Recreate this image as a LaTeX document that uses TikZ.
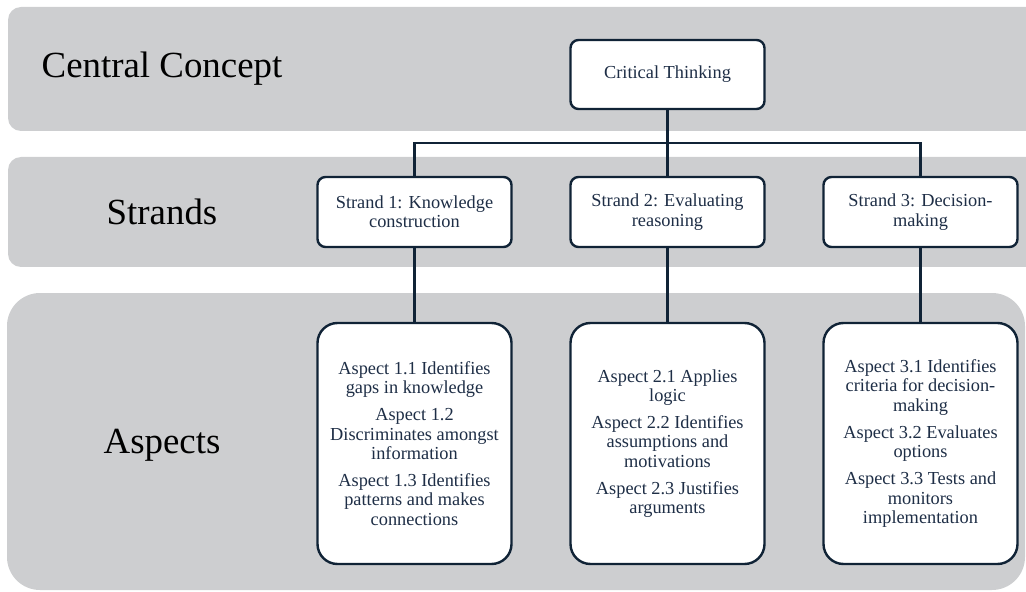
\documentclass[tikz,border=0pt]{standalone}
\usepackage{fontspec}
\setmainfont{Liberation Serif}
\definecolor{bandgray}{RGB}{205,206,208}
\definecolor{navy}{RGB}{16,35,54}
\definecolor{boxtext}{RGB}{30,46,70}
\begin{document}
\begin{tikzpicture}[x=1bp,y=-1bp,
  band/.style={fill=bandgray,draw=none},
  lbl/.style={font=\fontsize{37}{40}\selectfont,text=black,inner sep=0pt},
  card/.style={draw=navy,line width=2.4bp,fill=white,rounded corners=8bp,
    minimum width=194bp,align=center,text=boxtext,
    font=\fontsize{18.4}{19.5}\selectfont,inner sep=2bp},
  tallcard/.style={card,rounded corners=20bp,minimum height=241bp},
  conn/.style={draw=navy,line width=2.2bp}]
\useasboundingbox (0,0) rectangle (1026,592);
% bands
\fill[band,rounded corners=13bp] (8,7) rectangle (1060,131);
\fill[band,rounded corners=13bp] (8,157) rectangle (1060,267);
\fill[band,rounded corners=33bp] (7,293) rectangle (1025,590);
% labels
\node[lbl] (lcc) at (162,69) {Central Concept};
\node[lbl] (lst) at (162,212) {Strands};
\node[lbl] (las) at (162,445) {Aspects};
% boxes
\node[card,minimum height=69bp] (ct) at (667.5,74.5) {Critical Thinking};
\node[card,minimum height=70bp] (s1) at (414.5,212) {Strand 1: Knowledge\\construction};
\node[card,minimum height=70bp] (s2) at (667.5,212) {Strand 2: Evaluating\\reasoning};
\node[card,minimum height=70bp] (s3) at (920.5,212) {Strand 3: Decision-\\making};
\node[tallcard] (a1) at (414.5,443.5) {Aspect 1.1 Identifies\\gaps in knowledge\\[7.5bp]Aspect 1.2\\Discriminates amongst\\information\\[7.5bp]Aspect 1.3 Identifies\\patterns and makes\\connections};
\node[tallcard] (a2) at (667.5,443.5) {Aspect 2.1 Applies\\logic\\[7.5bp]Aspect 2.2 Identifies\\assumptions and\\motivations\\[7.5bp]Aspect 2.3 Justifies\\arguments};
\node[tallcard] (a3) at (920.5,443.5) {Aspect 3.1 Identifies\\criteria for decision-\\making\\[7.5bp]Aspect 3.2 Evaluates\\options\\[7.5bp]Aspect 3.3 Tests and\\monitors\\implementation};
% connectors
\coordinate (bar) at (667.5,143);
\draw[conn] (ct.south) -- (s2.north);
\draw[conn] (ct.south |- bar) -| (s1.north);
\draw[conn] (ct.south |- bar) -| (s3.north);
\draw[conn] (s1.south) -- (a1.north);
\draw[conn] (s2.south) -- (a2.north);
\draw[conn] (s3.south) -- (a3.north);
\end{tikzpicture}
\end{document}
